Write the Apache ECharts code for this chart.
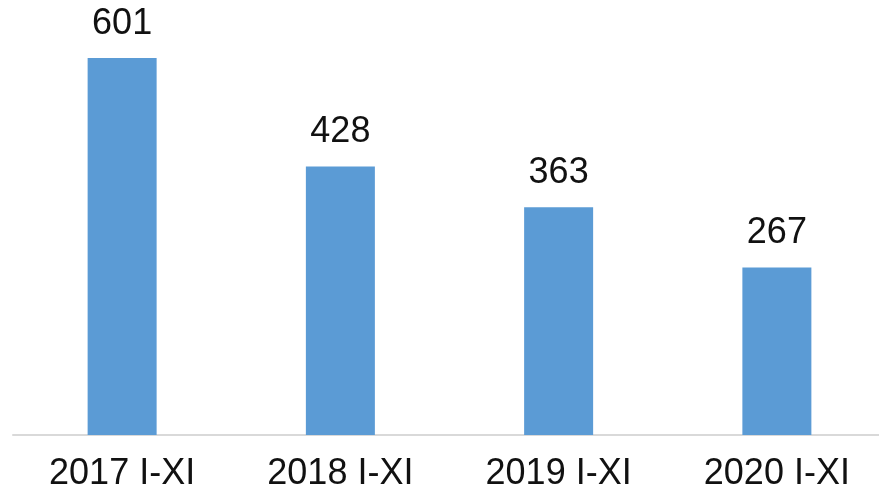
<!DOCTYPE html>
<html>
<head>
<meta charset="utf-8">
<script src="https://cdn.jsdelivr.net/npm/echarts@6/dist/echarts.min.js"></script>
<style>
  html, body { margin: 0; padding: 0; background: #fff; overflow: hidden; }
  #chart { width: 886px; height: 492px; }
</style>
</head>
<body>
<div id="chart"></div>
<script>
const categories = ["2017 I-XI", "2018 I-XI", "2019 I-XI", "2020 I-XI"];
const values = [601, 428, 363, 267];

const chart = echarts.init(document.getElementById("chart"));

chart.setOption({
  animation: false,
  grid: {
    left: 13,
    right: 0,
    top: 58,
    bottom: 57
  },
  xAxis: {
    type: "category",
    data: categories,
    axisLine: { lineStyle: { color: "#d9d9d9", width: 2 } },
    axisTick: { show: false },
    axisLabel: {
      color: "#111",
      fontFamily: "Liberation Sans",
      fontSize: 36,
      margin: 21
    }
  },
  yAxis: {
    type: "value",
    min: 0,
    max: 601,
    show: false
  },
  series: [
    {
      type: "bar",
      data: values,
      barWidth: 69,
      itemStyle: { color: "#5b9bd5" },
      label: {
        show: true,
        position: "top",
        distance: 16,
        color: "#111",
        fontFamily: "Liberation Sans",
        fontSize: 36
      }
    }
  ]
});
</script>
</body>
</html>
